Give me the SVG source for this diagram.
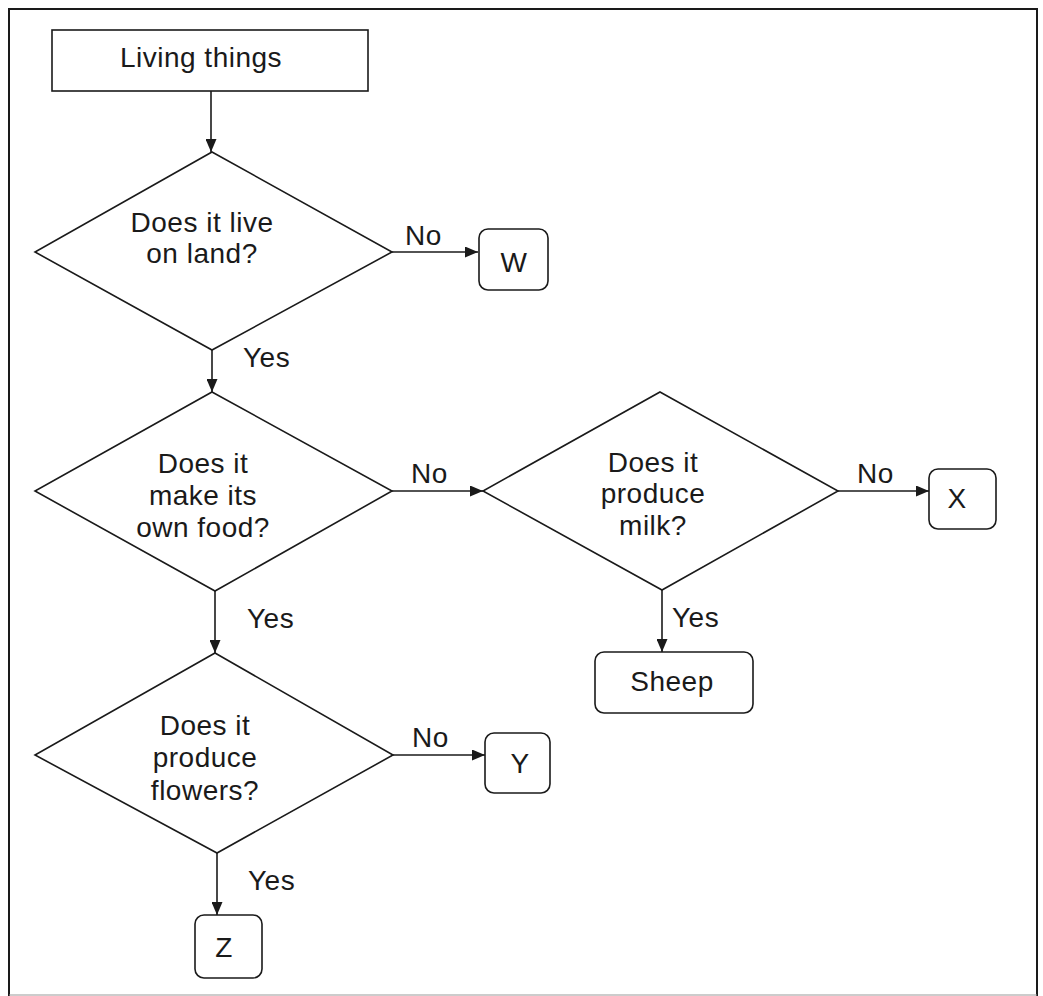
<svg xmlns="http://www.w3.org/2000/svg" width="1043" height="996" viewBox="0 0 1043 996">
  <style>
    .shape { fill: #ffffff; stroke: #1a1a1a; stroke-width: 1.6; }
    .line { fill: none; stroke: #1a1a1a; stroke-width: 1.6; }
    .t { font-family: "Liberation Sans", Arial, sans-serif; font-size: 28px; letter-spacing: 0.5px; fill: #1a1a1a; text-anchor: middle; }
    .lbl { font-family: "Liberation Sans", Arial, sans-serif; font-size: 28px; letter-spacing: 0.5px; fill: #1a1a1a; }
  </style>
  <defs>
    <marker id="arrow" viewBox="0 0 13 11" refX="13" refY="5.5" markerWidth="13" markerHeight="11" markerUnits="userSpaceOnUse" orient="auto">
      <path d="M0,0 L13,5.5 L0,11 Z" fill="#1a1a1a"/>
    </marker>
  </defs>

  <g id="frame">
    <path d="M9,996 L9,9 L1037,9 L1037,996" fill="none" stroke="#1a1a1a" stroke-width="2"/>
    <line x1="9" y1="995" x2="1037" y2="995" stroke="#9a9a9a" stroke-width="1.2"/>
  </g>

  <g id="connectors">
    <line class="line" x1="211" y1="91" x2="211" y2="152" marker-end="url(#arrow)"/>
    <line class="line" x1="392" y1="252" x2="478" y2="252" marker-end="url(#arrow)"/>
    <line class="line" x1="212" y1="350" x2="212" y2="392" marker-end="url(#arrow)"/>
    <line class="line" x1="392" y1="491" x2="483" y2="491" marker-end="url(#arrow)"/>
    <line class="line" x1="838" y1="491" x2="929" y2="491" marker-end="url(#arrow)"/>
    <line class="line" x1="662" y1="590" x2="662" y2="652" marker-end="url(#arrow)"/>
    <line class="line" x1="215" y1="591" x2="215" y2="653" marker-end="url(#arrow)"/>
    <line class="line" x1="393" y1="755" x2="485" y2="755" marker-end="url(#arrow)"/>
    <line class="line" x1="217" y1="853" x2="217" y2="915" marker-end="url(#arrow)"/>
    <text class="lbl" x="405" y="245">No</text>
    <text class="lbl" x="243" y="367">Yes</text>
    <text class="lbl" x="411" y="483">No</text>
    <text class="lbl" x="857" y="483">No</text>
    <text class="lbl" x="247" y="628">Yes</text>
    <text class="lbl" x="672" y="627">Yes</text>
    <text class="lbl" x="412" y="747">No</text>
    <text class="lbl" x="248" y="890">Yes</text>
  </g>

  <g id="living-things">
    <rect class="shape" x="52" y="30" width="316" height="61"/>
    <text class="t" x="201" y="67">Living things</text>
  </g>

  <g id="q-land">
    <polygon class="shape" points="212,152 392,252 212,350 35,252"/>
    <text class="t" x="202" y="232">Does it live</text>
    <text class="t" x="202" y="263">on land?</text>
  </g>

  <g id="w">
    <rect class="shape" x="479" y="229" width="69" height="61" rx="9"/>
    <text class="t" x="514" y="272">W</text>
  </g>

  <g id="q-food">
    <polygon class="shape" points="212,392 392,491 215,591 35,491"/>
    <text class="t" x="203" y="473">Does it</text>
    <text class="t" x="203" y="505">make its</text>
    <text class="t" x="203" y="537">own food?</text>
  </g>

  <g id="q-milk">
    <polygon class="shape" points="660,392 838,491 662,590 483,491"/>
    <text class="t" x="653" y="472">Does it</text>
    <text class="t" x="653" y="503">produce</text>
    <text class="t" x="653" y="535">milk?</text>
  </g>

  <g id="x">
    <rect class="shape" x="929" y="469" width="67" height="60" rx="9"/>
    <text class="t" x="957" y="508">X</text>
  </g>

  <g id="sheep">
    <rect class="shape" x="595" y="652" width="158" height="61" rx="9"/>
    <text class="t" x="672" y="691">Sheep</text>
  </g>

  <g id="q-flowers">
    <polygon class="shape" points="215,653 393,755 217,853 35,755"/>
    <text class="t" x="205" y="735">Does it</text>
    <text class="t" x="205" y="767">produce</text>
    <text class="t" x="205" y="800">flowers?</text>
  </g>

  <g id="y">
    <rect class="shape" x="485" y="733" width="65" height="60" rx="9"/>
    <text class="t" x="520" y="773">Y</text>
  </g>

  <g id="z">
    <rect class="shape" x="195" y="915" width="67" height="63" rx="9"/>
    <text class="t" x="224" y="957">Z</text>
  </g>
</svg>
